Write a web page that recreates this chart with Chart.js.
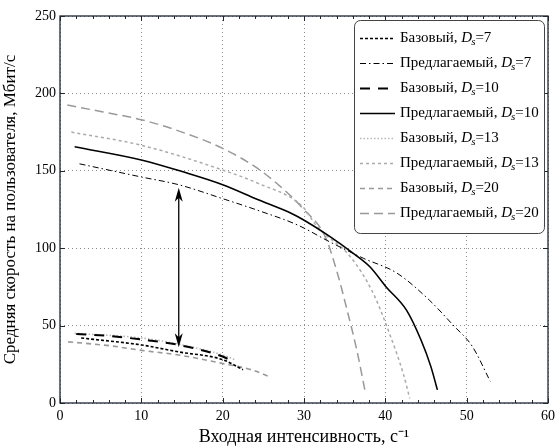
<!DOCTYPE html>
<html><head><meta charset="utf-8">
<script src="https://cdn.jsdelivr.net/npm/chart.js@4.4.1/dist/chart.umd.min.js"></script>
<style>html,body{margin:0;padding:0;background:#fff}canvas{display:block}</style>
</head><body>
<canvas id="c" width="560" height="448"></canvas>
<script>
// ---- data ----
const xTickStep = 10, yTickStep = 50;
const baseD7X = [2.6, 10, 14.6, 20, 22.5];
const baseD7Y = [42, 37.5, 33, 28, 21.5];
const predD7X = [2.4, 10, 14.6, 20, 24.3, 29.2, 33.2, 37.3, 41.4, 45.4, 48.3, 50.7, 52.9];
const predD7Y = [154.5, 146, 141, 132, 124.5, 115, 104, 93.5, 84, 66.5, 50.5, 36.5, 14];
const baseD10X = [2, 6.1, 10, 14.6, 20, 21.3];
const baseD10Y = [44.6, 43.3, 41, 37.5, 30, 26.7];
const predD10X = [1.8, 10, 15, 20, 24.3, 27.6, 29.2, 33.2, 36.1, 38.1, 40.1, 42.6, 44.4, 45.6, 46.4];
const predD10Y = [165.5, 157, 149.5, 141, 131.5, 124.5, 120.5, 107.5, 96.5, 88, 75, 60, 40.5, 23.5, 8.5];
const baseD13X = [1.8, 10, 14.6, 20, 21.5];
const baseD13Y = [45, 42, 38, 31, 28];
const predD13X = [1.4, 10, 20, 24.3, 29.8, 31.6, 35.7, 38.5, 40.5, 42.2, 43];
const predD13Y = [175, 166.5, 150.5, 142, 127, 114, 94.5, 71, 45, 19, 3];
const baseD20X = [1, 6.1, 10, 14.6, 20, 23.5, 26];
const baseD20Y = [39.5, 37, 34, 31, 25.5, 21.5, 16.5];
const predD20X = [0.9, 5.3, 10, 15, 20, 24.3, 27.6, 29.8, 32.6, 34.1, 35.3, 36.5, 37.5];
const predD20Y = [192.5, 188, 183, 175, 164.5, 151.5, 137.5, 126, 107.5, 84, 60, 34, 8];
const seriesNames = ['Базовый', 'Предлагаемый', 'Базовый', 'Предлагаемый', 'Базовый', 'Предлагаемый', 'Базовый', 'Предлагаемый'];
const seriesDs = ['7', '7', '10', '10', '13', '13', '20', '20'];
const arrowX = [14.6];
const arrowFromY = [36];
const arrowToY = [139];
const xTitle = 'Входная интенсивность, с⁻¹';
const yTitle = 'Средняя скорость на пользователя, Мбит/с';

const pts = (xs, ys) => xs.map((x, i) => ({x, y: ys[i]}));
const FONT = "'Liberation Serif','Times New Roman',serif";
const styles = [
  {c: '#000', w: 1.6, d: [3, 2]},
  {c: '#000', w: 1, d: [6, 3, 1.5, 3]},
  {c: '#000', w: 2, d: [10, 8]},
  {c: '#000', w: 1.6, d: []},
  {c: '#b8b8b8', w: 1.6, d: [1.5, 2]},
  {c: '#aaaaaa', w: 1.5, d: [3, 3]},
  {c: '#999999', w: 1.6, d: [5, 4]},
  {c: '#999999', w: 1.5, d: [9, 5]},
];
const seriesData = [
  pts(baseD7X, baseD7Y), pts(predD7X, predD7Y),
  pts(baseD10X, baseD10Y), pts(predD10X, predD10Y),
  pts(baseD13X, baseD13Y), pts(predD13X, predD13Y),
  pts(baseD20X, baseD20Y), pts(predD20X, predD20Y)
];
const datasets = seriesData.map((d, i) => ({
  label: seriesNames[i] + ', Ds=' + seriesDs[i],
  data: d,
  borderColor: styles[i].c,
  borderWidth: styles[i].w,
  borderDash: styles[i].d,
  pointRadius: 0,
  fill: false,
  cubicInterpolationMode: 'monotone'
}));

const AXC = '#1e2636';
const overlay = {
  id: 'overlay',
  afterDraw(chart) {
    const ctx = chart.ctx, a = chart.chartArea, xs = chart.scales.x, ys = chart.scales.y;
    ctx.save();
    // arrow
    ctx.strokeStyle = '#000'; ctx.fillStyle = '#000'; ctx.lineWidth = 1.3;
    for (let k = 0; k < arrowX.length; k++) {
      const px = xs.getPixelForValue(arrowX[k]);
      const y1 = ys.getPixelForValue(arrowFromY[k]);
      const y2 = ys.getPixelForValue(arrowToY[k]);
      ctx.beginPath(); ctx.moveTo(px, y1 - 8); ctx.lineTo(px, y2 + 8); ctx.stroke();
      const head = (tipY, dir) => {
        ctx.beginPath();
        ctx.moveTo(px, tipY);
        ctx.lineTo(px - 4, tipY + dir * 14);
        ctx.lineTo(px, tipY + dir * 10);
        ctx.lineTo(px + 4, tipY + dir * 14);
        ctx.closePath(); ctx.fill();
      };
      head(y2, 1); head(y1, -1);
    }
    // box
    ctx.strokeStyle = AXC; ctx.lineWidth = 1.3; ctx.setLineDash([]);
    ctx.strokeRect(a.left, a.top, a.right - a.left, a.bottom - a.top);
    // inward ticks
    ctx.lineWidth = 1;
    const tl = 5, tm = 3;
    for (let v = 0; v <= 60; v += 2) {
      const px = Math.round(xs.getPixelForValue(v)) + 0.5;
      const L = (v % xTickStep === 0) ? tl : tm;
      ctx.beginPath();
      ctx.moveTo(px, a.bottom); ctx.lineTo(px, a.bottom - L);
      ctx.moveTo(px, a.top); ctx.lineTo(px, a.top + L);
      ctx.stroke();
    }
    for (let v = 0; v <= 250; v += yTickStep) {
      const py = Math.round(ys.getPixelForValue(v)) + 0.5;
      ctx.beginPath();
      ctx.moveTo(a.left, py); ctx.lineTo(a.left + tl, py);
      ctx.moveTo(a.right, py); ctx.lineTo(a.right - tl, py);
      ctx.stroke();
    }
    // legend
    const bx = a.right - 194, by = a.top + 4, bw = 190, bh = 213;
    ctx.fillStyle = '#fff'; ctx.strokeStyle = '#444'; ctx.lineWidth = 1;
    ctx.beginPath(); ctx.roundRect(bx + 0.5, by + 0.5, bw, bh, 6); ctx.fill(); ctx.stroke();
    chart.data.datasets.forEach((ds, i) => {
      const cy = by + 18.5 + i * 25;
      ctx.strokeStyle = ds.borderColor; ctx.lineWidth = ds.borderWidth; ctx.setLineDash(ds.borderDash);
      ctx.beginPath(); ctx.moveTo(bx + 6, cy); ctx.lineTo(bx + 41, cy); ctx.stroke();
      ctx.setLineDash([]);
      ctx.fillStyle = '#000'; ctx.textBaseline = 'middle'; ctx.textAlign = 'left';
      let tx = bx + 46;
      ctx.font = '15px ' + FONT;
      const t1 = seriesNames[i] + ', ';
      ctx.fillText(t1, tx, cy); tx += ctx.measureText(t1).width;
      ctx.font = 'italic 15px ' + FONT;
      ctx.fillText('D', tx, cy); tx += ctx.measureText('D').width;
      ctx.font = 'italic 11px ' + FONT;
      ctx.fillText('s', tx - 1, cy + 4); tx += ctx.measureText('s').width - 1;
      ctx.font = '15px ' + FONT;
      ctx.fillText('=' + seriesDs[i], tx, cy);
    });
    ctx.restore();
  }
};

new Chart(document.getElementById('c'), {
  type: 'line',
  data: {datasets},
  options: {
    responsive: false, animation: false,
    layout: {padding: {top: 16, right: 7, left: 0, bottom: 0}},
    plugins: {legend: {display: false}, tooltip: {enabled: false}},
    scales: {
      x: {
        type: 'linear', min: 0, max: 60,
        ticks: {stepSize: xTickStep, color: '#000', font: {family: FONT, size: 14}, padding: 5, maxRotation: 0},
        grid: {color: 'rgba(0,0,0,0.45)', lineWidth: 1, drawTicks: false},
        border: {display: false, dash: [1, 3]},
        title: {display: true, text: xTitle, color: '#000', font: {family: FONT, size: 18}, padding: {top: 2, bottom: 0}},
        afterFit(s) { s.height = 45; }
      },
      y: {
        type: 'linear', min: 0, max: 250,
        ticks: {stepSize: yTickStep, color: '#000', font: {family: FONT, size: 14}, padding: 4},
        grid: {color: 'rgba(0,0,0,0.45)', lineWidth: 1, drawTicks: false},
        border: {display: false, dash: [1, 3]},
        title: {display: true, text: yTitle, color: '#000', font: {family: FONT, size: 17}, padding: {top: 0, bottom: 4}},
        afterFit(s) { s.width = 60; }
      }
    }
  },
  plugins: [overlay]
});
</script>
</body></html>
